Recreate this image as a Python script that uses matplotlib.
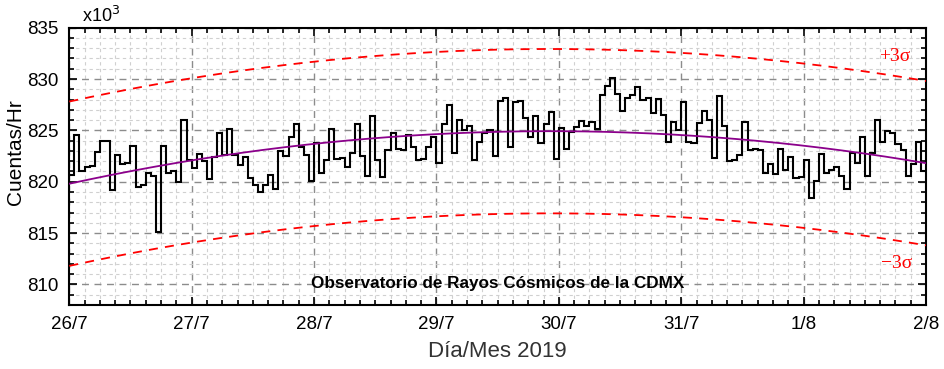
import numpy as np
import matplotlib
matplotlib.use("Agg")
import matplotlib.pyplot as plt
from matplotlib.ticker import MultipleLocator

plt.rcParams['font.family'] = ['Liberation Sans', 'DejaVu Sans']

# conteos horarios (x10^3), un dia por lista
dia_26_7 = [820.65, 824.6, 821.0, 821.4, 821.5, 822.9, 824.0, 824.0, 819.2, 822.6, 821.7, 821.8,
            823.5, 819.5, 819.7, 820.9, 820.6, 815.1, 823.5, 820.9, 821.0, 820.0, 826.0, 822.1]
dia_27_7 = [821.3, 822.7, 822.0, 820.3, 822.4, 824.7, 822.6, 825.1, 822.6, 821.6, 822.4, 820.4,
            819.7, 819.0, 819.7, 820.7, 819.3, 823.0, 822.5, 824.4, 825.6, 823.4, 822.6, 820.1]
dia_28_7 = [823.8, 820.9, 822.1, 825.1, 822.2, 822.3, 821.4, 822.8, 825.6, 822.5, 820.6, 826.4,
            822.1, 820.5, 823.1, 824.7, 823.2, 823.1, 824.6, 823.4, 822.1, 822.2, 823.4, 824.4]
dia_29_7 = [821.8, 825.6, 827.5, 822.8, 826.0, 825.0, 825.4, 822.1, 823.9, 824.7, 825.0, 822.5,
            827.9, 828.2, 823.4, 827.8, 827.9, 826.2, 824.4, 826.4, 823.8, 825.6, 826.8, 822.2]
dia_30_7 = [825.2, 823.2, 824.8, 825.3, 825.9, 825.4, 825.8, 825.1, 828.4, 829.3, 830.1, 828.5,
            826.9, 828.2, 828.4, 829.2, 828.0, 828.2, 826.7, 828.1, 826.5, 823.9, 825.8, 825.0]
dia_31_7 = [827.8, 823.9, 823.8, 825.7, 826.9, 826.0, 822.3, 828.3, 825.4, 822.0, 822.1, 822.6,
            825.8, 823.1, 823.2, 823.1, 820.9, 821.7, 820.8, 823.2, 821.1, 822.4, 820.4, 820.5]
dia_1_8 = [822.1, 818.4, 820.1, 822.7, 820.9, 821.1, 821.4, 820.6, 819.3, 822.8, 821.8, 824.4,
           820.6, 822.8, 826.0, 823.9, 824.9, 824.7, 823.7, 823.1, 820.6, 821.7, 823.9, 821.0]

dias = ["26/7", "27/7", "28/7", "29/7", "30/7", "31/7", "1/8", "2/8"]

ajuste_dia = [0, 1, 2, 3, 4, 5, 6, 7]
ajuste_val = [819.8, 822.0, 823.8, 824.7, 824.9, 824.5, 823.4, 821.9]
tres_sigma = 8.0

cuentas = np.array(dia_26_7 + dia_27_7 + dia_28_7 + dia_29_7 + dia_30_7 + dia_31_7 + dia_1_8)
bordes = np.arange(len(cuentas) + 1)

coef = np.polyfit(np.array(ajuste_dia) * 24, ajuste_val, 2)
t = np.linspace(0, 168, 400)
curva = np.polyval(coef, t)

fig = plt.figure(figsize=(9.44, 3.69), dpi=100)
ax = fig.add_axes([0.0734, 0.1734, 0.9076, 0.7516])

ax.stairs(cuentas, bordes, baseline=None, color='black', linewidth=1.5, zorder=3)
ax.plot(t, curva, color='#8b008b', linewidth=1.3, zorder=4)
ax.plot(t, curva + tres_sigma, color='red', linestyle=(0, (5, 4)), linewidth=1.3, zorder=4)
ax.plot(t, curva - tres_sigma, color='red', linestyle=(0, (5, 4)), linewidth=1.3, zorder=4)

ax.set_xlim(0, 168)
ax.set_ylim(808, 835)
ax.set_xticks(np.arange(len(dias)) * 24)
ax.set_xticklabels(dias)
ax.xaxis.set_minor_locator(MultipleLocator(3))
ax.yaxis.set_major_locator(MultipleLocator(5))
ax.yaxis.set_minor_locator(MultipleLocator(1))

ax.grid(which='major', color='#8c8c8c', linestyle=(0, (5, 4)), linewidth=1.0)
ax.grid(which='minor', color='#d0d0d0', linestyle=(0, (3, 3)), linewidth=0.8)
ax.set_axisbelow(True)

ax.tick_params(which='both', direction='in', top=True, right=True, labelsize=13.5, width=1.2)
ax.tick_params(which='major', length=6, pad=8)
ax.tick_params(which='minor', length=3.5)
for s in ax.spines.values():
    s.set_linewidth(1.5)

ax.set_xlabel('Día/Mes 2019', fontsize=16, color='#333333', labelpad=6)
ax.set_ylabel('Cuentas/Hr', fontsize=15)
ax.yaxis.set_label_coords(-0.052, 0.55)

ax.text(0.015, 1.005, r'x10$^3$', transform=ax.transAxes, fontsize=13, va='bottom')
ax.text(0.5, 0.076, 'Observatorio de Rayos Cósmicos de la CDMX', transform=ax.transAxes,
        ha='center', va='center', fontsize=12.3, fontweight='bold')
ax.text(161.8, 832.15, '+3σ', color='red', fontsize=14, ha='center', va='center',
        family=['Liberation Serif', 'DejaVu Serif'])
ax.text(162.2, 812.0, '−3σ', color='red', fontsize=14, ha='center', va='center',
        family=['Liberation Serif', 'DejaVu Serif'])

plt.savefig('out.png', dpi=100)
